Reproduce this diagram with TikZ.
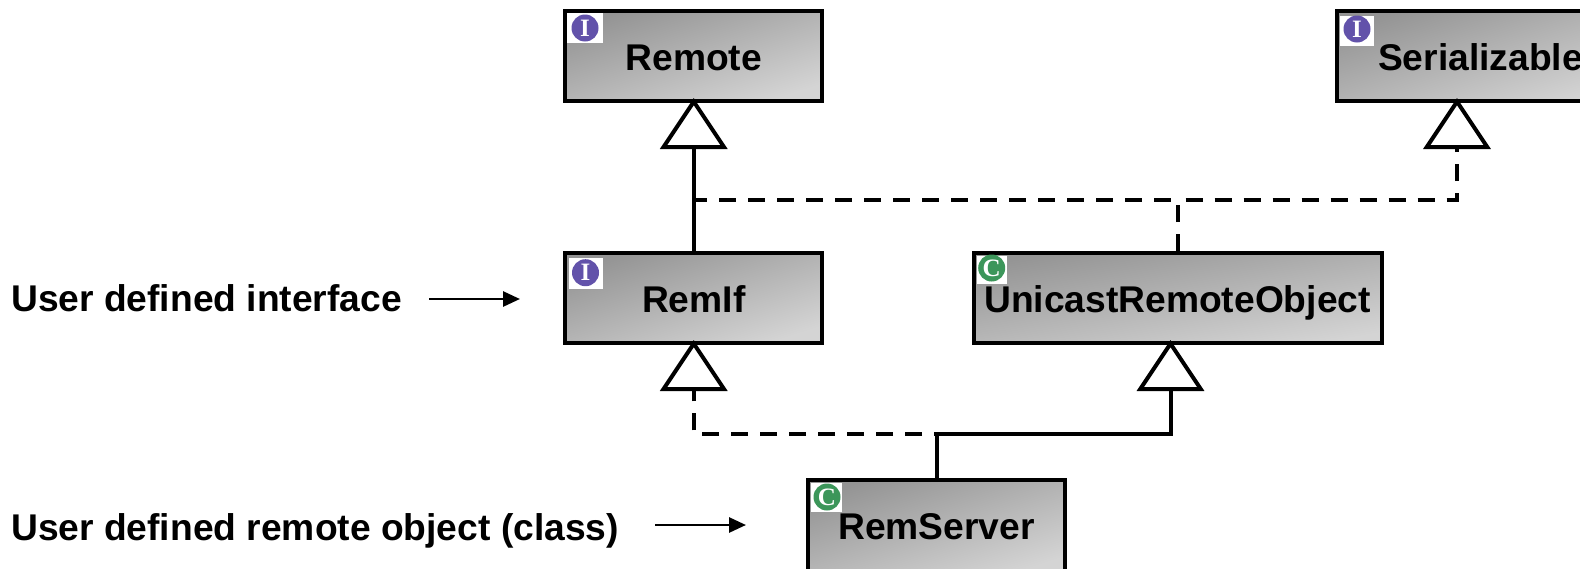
\documentclass[tikz,border=0pt]{standalone}
\usepackage{fontspec}
\setmainfont{Liberation Sans}
\newfontfamily\iconfont{Liberation Serif}
\usetikzlibrary{arrows.meta}
\definecolor{ivio}{RGB}{98,82,170}
\definecolor{cgrn}{RGB}{60,150,90}
\tikzset{
 x=1pt,y=-1pt,
 umlbox/.style={draw=black,line width=4pt,rectangle,
   top color=black!42,bottom color=black!17,shading angle=18,
   font=\fontsize{37.2}{37.2}\bfseries\selectfont,text=black,inner sep=0pt,
   text height=30pt,text depth=2pt,minimum height=90pt,minimum width=257pt},
 note/.style={font=\fontsize{37.2}{37.2}\bfseries\selectfont,text=black,anchor=base west,inner sep=0pt},
 solidline/.style={line width=4pt},
 dashline/.style={line width=4pt,dash pattern=on 17pt off 12pt},
 inherit/.style={shorten >=-5pt,-{Triangle[open,fill=white,length=51pt,width=67pt,line width=4pt]}},
 pointer/.style={line width=2.8pt,-{Triangle[length=17pt,width=15pt]}},
 iconbg/.style={fill=white,draw=none,inner sep=0pt},
 icondisc/.style={circle,minimum size=27pt,inner sep=0pt,text=white,font=\fontsize{25}{25}\bfseries\iconfont},
}
\begin{document}
\begin{tikzpicture}
\useasboundingbox (0,0) rectangle (1580,568);
\clip (0,0) rectangle (1580,568);
\fill[white] (0,0) rectangle (1580,568);
% boxes
\node[umlbox] (remote) at (693.75,56) {Remote};
\node[umlbox,minimum width=288pt] (ser) at (1480.5,56) {Serializable};
\node[umlbox] (remif) at (693.75,298) {RemIf};
\node[umlbox,minimum width=408pt,shading angle=10] (uni) at (1177.5,298) {UnicastRemoteObject};
\node[umlbox,minimum height=94pt,text height=28pt,text depth=4pt] (srv) at (936.5,527) {RemServer};
% icons
\node[iconbg,minimum width=36pt,minimum height=30pt] (bg1) at (585,28) {};
\node[icondisc,fill=ivio] (ic1) at (585,28) {I};
\node[iconbg,minimum width=34pt,minimum height=30pt] (bg2) at (1357,31) {};
\node[icondisc,fill=ivio] (ic2) at (1357,29) {I};
\node[iconbg,minimum width=34pt,minimum height=31pt] (bg3) at (586,273.5) {};
\node[icondisc,fill=ivio] (ic3) at (585.5,272.7) {I};
\node[iconbg,minimum width=30pt,minimum height=28pt] (bg4) at (992,270) {};
\node[icondisc,fill=cgrn] (ic4) at (991.7,268) {C};
\node[iconbg,minimum width=31pt,minimum height=29pt] (bg5) at (826.5,497.5) {};
\node[icondisc,fill=cgrn] (ic5) at (827,497) {C};
% notes
\node[note] (n1) at (11,311) {User defined interface};
\node[note] (n2) at (11,540.5) {User defined remote object (class)};
\coordinate (p1s) at (429,299);
\coordinate (p1e) at (520,299);
\coordinate (p2s) at (655,525);
\coordinate (p2e) at (746,525);
\draw[pointer] (p1s) -- (p1e);
\draw[pointer] (p2s) -- (p2e);
% coordinates
\coordinate (serTip) at (1457,103);
\coordinate (uniTip) at (1170.5,345);
\coordinate (jTop) at (uni.north |- 0,199.5);
\coordinate (jBot) at (srv.north |- 0,434);
% connectors
\draw[dashline] (uni.north) -- (jTop);
\draw[dashline,dash phase=22pt] (jTop) -- (jTop -| remote.south);
\draw[dashline,dash phase=21pt,inherit] (jTop) -- (jTop -| serTip) -- (serTip);
\draw[solidline,inherit] (remif.north) -- (remote.south);
\draw[solidline,inherit] (srv.north) |- (jBot -| uniTip) -- (uniTip);
\draw[dashline,dash phase=14.5pt,inherit] (jBot) -- (jBot -| remif.south) -- (remif.south);
\end{tikzpicture}
\end{document}
